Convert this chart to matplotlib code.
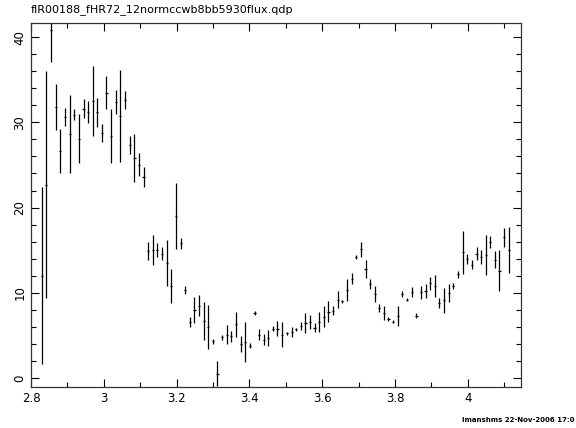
import matplotlib
matplotlib.use("Agg")
import matplotlib.pyplot as plt
from matplotlib.ticker import MultipleLocator

# --- data: bin centres, flux and 1-sigma errors ---
energy = [
    2.829, 2.842, 2.855, 2.868, 2.880, 2.893, 2.906, 2.918, 2.931, 2.944,
    2.957, 2.969, 2.982, 2.995, 3.007, 3.020, 3.033, 3.045, 3.058, 3.071,
    3.084, 3.096, 3.109, 3.122, 3.134, 3.147, 3.160, 3.173, 3.185, 3.198,
    3.211, 3.223, 3.236, 3.249, 3.261, 3.274, 3.287, 3.300, 3.312, 3.325,
    3.338, 3.350, 3.363, 3.376, 3.388, 3.401, 3.414, 3.427, 3.439, 3.452,
    3.465, 3.477, 3.490, 3.503, 3.516, 3.528, 3.541, 3.554, 3.566, 3.579,
    3.592, 3.605, 3.617, 3.630, 3.643, 3.655, 3.668, 3.681, 3.693, 3.706,
    3.719, 3.732, 3.744, 3.757, 3.770, 3.782, 3.795, 3.808, 3.820, 3.833,
    3.846, 3.859, 3.871, 3.884, 3.897, 3.909, 3.922, 3.935, 3.948, 3.960,
    3.973, 3.986, 3.998, 4.011, 4.024, 4.036, 4.049, 4.062, 4.075, 4.087,
    4.100, 4.113,
]
flux = [
    12.0, 22.7, 40.8, 31.8, 26.6, 30.6, 28.6, 30.9, 28.1, 31.6,
    31.2, 32.5, 31.2, 28.8, 33.5, 28.4, 32.4, 30.8, 32.6, 27.3,
    25.8, 25.0, 23.6, 14.9, 15.0, 15.0, 14.6, 13.5, 10.8, 19.0,
    15.8, 10.3, 6.6, 8.0, 8.5, 6.7, 6.0, 4.3, 0.5, 4.8,
    5.1, 4.9, 6.3, 4.0, 4.2, 3.8, 7.6, 5.1, 4.5, 4.7,
    5.8, 5.8, 5.1, 5.25, 5.4, 5.7, 6.1, 6.45, 6.6, 5.9,
    6.6, 7.2, 7.8, 7.9, 9.2, 9.0, 10.3, 11.65, 14.2, 15.1,
    12.75, 11.0, 9.85, 8.2, 7.6, 6.9, 6.6, 7.3, 9.8, 9.2,
    10.1, 7.3, 10.05, 10.2, 11.1, 10.8, 8.8, 9.1, 10.0, 10.85,
    12.15, 14.75, 13.95, 13.3, 14.6, 14.2, 14.45, 15.95, 13.9, 12.6,
    16.5, 15.05,
]
flux_err = [
    10.4, 13.3, 3.7, 2.65, 2.6, 1.05, 4.6, 0.65, 2.85, 1.1,
    1.25, 4.15, 1.7, 1.05, 1.95, 3.2, 1.4, 5.4, 1.05, 1.05,
    2.85, 1.35, 1.2, 1.05, 1.75, 0.8, 0.8, 2.7, 2.0, 3.85,
    0.65, 0.45, 0.6, 1.55, 1.25, 2.25, 2.55, 0.3, 1.45, 0.3,
    1.15, 0.65, 1.5, 0.9, 2.35, 0.3, 0.25, 0.6, 0.65, 0.95,
    0.25, 0.9, 1.5, 0.2, 0.55, 0.2, 0.5, 1.15, 0.8, 0.5,
    1.2, 1.2, 1.2, 0.5, 1.0, 0.2, 1.3, 0.65, 0.2, 0.9,
    1.05, 0.6, 0.9, 0.45, 0.8, 0.2, 0.15, 1.2, 0.35, 0.2,
    0.6, 0.3, 0.75, 0.8, 0.8, 1.3, 0.55, 1.5, 1.05, 0.35,
    0.45, 2.55, 0.55, 0.55, 0.8, 0.8, 2.35, 0.75, 1.0, 2.4,
    1.1, 2.7,
]
bin_half_width = 0.003

TITLE = "fIR00188_fHR72_12normccwb8bb5930flux.qdp"
STAMP = "imanshms 22-Nov-2006 17:0"

plt.rcParams['font.family'] = 'DejaVu Sans'

fig = plt.figure(figsize=(5.76, 4.28), dpi=100)
ax = fig.add_axes([0.054, 0.096, 0.851, 0.851])

ax.errorbar(energy, flux, yerr=flux_err, xerr=bin_half_width,
            fmt='none', ecolor='black', elinewidth=0.9, capsize=0)

ax.set_xlim(2.8, 4.147)
ax.set_ylim(-1.05, 41.7)

# PGPLOT-style frame: inward ticks on every side
ax.xaxis.set_major_locator(MultipleLocator(0.2))
ax.xaxis.set_minor_locator(MultipleLocator(0.1))
ax.yaxis.set_major_locator(MultipleLocator(10))
ax.yaxis.set_minor_locator(MultipleLocator(2))
ax.xaxis.set_major_formatter(plt.FuncFormatter(lambda v, p: f"{v:g}"))
ax.tick_params(which='both', direction='in', top=True, right=True,
               color='black', width=0.8, labelsize=8.5)
ax.tick_params(which='major', length=6)
ax.tick_params(which='minor', length=3.5)
ax.tick_params(axis='x', pad=3.5)
for lbl in ax.get_yticklabels():
    lbl.set_rotation(90)
    lbl.set_va('center')
for side in ax.spines.values():
    side.set_linewidth(0.9)
    side.set_color('#333333')

fig.text(0.053, 0.965, TITLE, fontsize=8, ha='left', va='bottom')
fig.text(0.802, 0.012, STAMP, fontsize=5, fontweight='bold', ha='left', va='bottom')

fig.savefig("out.png", dpi=100)
